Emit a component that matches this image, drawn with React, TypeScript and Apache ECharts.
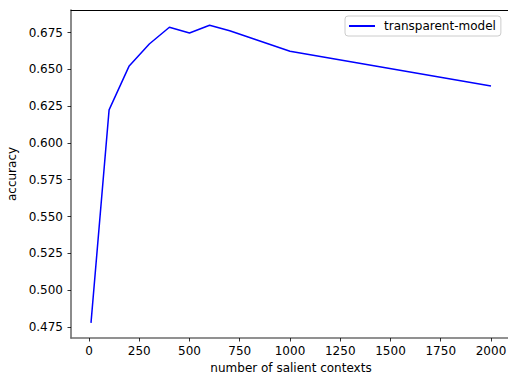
import React, { useEffect, useRef } from "react";
import * as echarts from "echarts";

const contexts = [10, 100, 200, 300, 400, 500, 600, 700, 1000, 2000];
const accuracy = [0.4777, 0.6225, 0.6524, 0.6673, 0.6787, 0.6748, 0.6800, 0.6763, 0.6624, 0.6388];
const xTicks = [0, 250, 500, 750, 1000, 1250, 1500, 1750, 2000];
const yTicks = [0.475, 0.5, 0.525, 0.55, 0.575, 0.6, 0.625, 0.65, 0.675];
const seriesName = "transparent-model";

const FONT = "DejaVu Sans";
const FS = 12;

export default function App() {
  const ref = useRef<HTMLDivElement>(null);
  useEffect(() => {
    if (!ref.current) return;
    const chart = echarts.init(ref.current, undefined, { renderer: "svg" });
    chart.setOption({
      animation: false,
      backgroundColor: "#ffffff",
      grid: { left: 71, right: -3, top: 10, bottom: 36, containLabel: false, outerBoundsMode: "none" },
      legend: {
        left: 345,
        top: 16,
        orient: "horizontal",
        padding: [4, 5, 4, 4],
        borderColor: "#cccccc",
        borderWidth: 1,
        borderRadius: 3,
        backgroundColor: "#ffffff",
        itemWidth: 26,
        itemHeight: 2,
        icon: "rect",
        textStyle: { fontFamily: FONT, fontSize: FS, color: "#000", padding: [0, 0, 0, 4] },
        data: [{ name: seriesName, itemStyle: { color: "#0000ff" } }],
      },
      xAxis: [
        {
          type: "value",
          min: -89.5,
          max: 2099.5,
          position: "bottom",
          name: "number of salient contexts",
          nameLocation: "middle",
          nameGap: 24,
          nameTextStyle: { fontFamily: FONT, fontSize: FS, color: "#000" },
          axisLine: { show: true, onZero: false, lineStyle: { color: "#6e6e6e", width: 1.6 } },
          axisTick: { show: true, customValues: xTicks, length: 3.5, lineStyle: { color: "#000", width: 0.8 } },
          axisLabel: {
            customValues: xTicks,
            margin: 7,
            fontFamily: FONT,
            fontSize: FS,
            color: "#000",
            formatter: (v: number) => String(v),
          },
          splitLine: { show: false },
        },
        {
          type: "value",
          min: -89.5,
          max: 2099.5,
          position: "top",
          axisLine: { show: true, onZero: false, lineStyle: { color: "#000", width: 1 } },
          axisTick: { show: false },
          axisLabel: { show: false },
          splitLine: { show: false },
        },
      ],
      yAxis: {
        type: "value",
        min: 0.4674,
        max: 0.6904,
        position: "left",
        name: "accuracy",
        nameLocation: "middle",
        nameGap: 49,
        nameRotate: 90,
        nameTextStyle: { fontFamily: FONT, fontSize: FS, color: "#000" },
        axisLine: { show: true, onZero: false, lineStyle: { color: "#6e6e6e", width: 1.6 } },
        axisTick: { show: true, customValues: yTicks, length: 3.5, lineStyle: { color: "#000", width: 0.8 } },
        axisLabel: {
          customValues: yTicks,
          margin: 8,
          fontFamily: FONT,
          fontSize: FS,
          color: "#000",
          formatter: (v: number) => v.toFixed(3),
        },
        splitLine: { show: false },
      },
      series: [
        {
          name: seriesName,
          type: "line",
          xAxisIndex: 0,
          data: contexts.map((c, i) => [c, accuracy[i]]),
          showSymbol: false,
          symbol: "none",
          lineStyle: { color: "#0000ff", width: 1.5 },
          itemStyle: { color: "#0000ff" },
        },
      ],
    });
    return () => chart.dispose();
  }, []);
  return (
    <div
      ref={ref}
      style={{ position: "fixed", left: 0, top: 0, width: 508, height: 374 }}
    />
  );
}
